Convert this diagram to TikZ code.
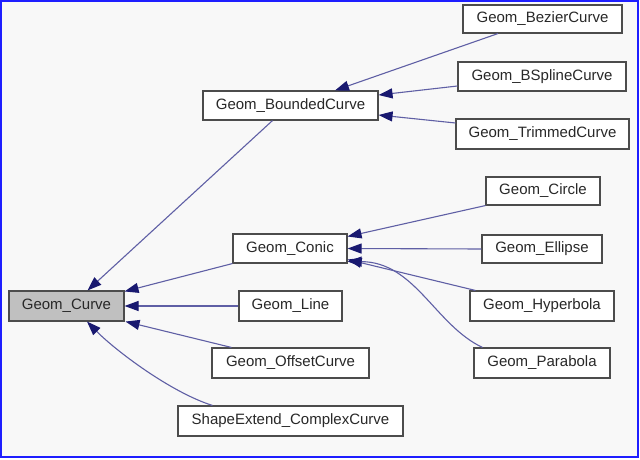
\documentclass[tikz,border=0pt]{standalone}
\usepackage{fontspec}
\setmainfont{Liberation Sans}
\usetikzlibrary{arrows.meta}
\definecolor{bgc}{RGB}{248,248,248}
\definecolor{framec}{RGB}{30,30,255}
\definecolor{edgec}{RGB}{95,95,165}
\definecolor{tipc}{RGB}{25,25,112}
\definecolor{hilite}{RGB}{192,192,192}
\definecolor{txtc}{RGB}{40,40,40}
\tikzset{
  cls/.style={draw=black!70, line width=1.1pt, fill=white, inner sep=0pt, text=txtc,
    font=\fontsize{15}{17}\selectfont},
  edge/.style={draw=edgec, line width=1.1pt,
    -{Triangle[length=14pt,width=10pt,color=tipc,fill=tipc]}},
}
\begin{document}
\begin{tikzpicture}[x=1pt,y=-1pt]
\useasboundingbox (0,0) rectangle (640,460);
\fill[bgc] (0,0) rectangle (638,457);
\draw[framec, line width=2pt] (1,1) rectangle (638,457);

\node[cls, fill=hilite, minimum width=115pt, minimum height=30pt] (curve) at (66.5,306) {Geom\_Curve};
\node[cls, minimum width=175pt, minimum height=29pt] (bounded) at (290.5,105.5) {Geom\_BoundedCurve};
\node[cls, minimum width=114pt, minimum height=29pt] (conic) at (290,248.5) {Geom\_Conic};
\node[cls, minimum width=103pt, minimum height=30pt] (line) at (290.5,306) {Geom\_Line};
\node[cls, minimum width=157pt, minimum height=30pt] (offset) at (290.5,363) {Geom\_OffsetCurve};
\node[cls, minimum width=225pt, minimum height=30pt] (complex) at (290.5,421) {ShapeExtend\_ComplexCurve};
\node[cls, minimum width=159pt, minimum height=28pt] (bezier) at (542.5,19) {Geom\_BezierCurve};
\node[cls, minimum width=168pt, minimum height=29pt] (bspline) at (542,76.5) {Geom\_BSplineCurve};
\node[cls, minimum width=173pt, minimum height=30pt] (trimmed) at (542.5,134) {Geom\_TrimmedCurve};
\node[cls, minimum width=114pt, minimum height=28pt] (circle) at (543,191) {Geom\_Circle};
\node[cls, minimum width=120pt, minimum height=28pt] (ellipse) at (542,249) {Geom\_Ellipse};
\node[cls, minimum width=144pt, minimum height=30pt] (hyperbola) at (542,306) {Geom\_Hyperbola};
\node[cls, minimum width=136pt, minimum height=30pt] (parabola) at (542,363) {Geom\_Parabola};

% edges to Geom_Curve
\draw[edge] ([xshift=-18pt]bounded.south) -- ([xshift=21pt]curve.north);
\draw[edge] (conic.south west) -- ([yshift=-1pt]curve.north east);
\draw[edge] (line.west) -- (curve.east);
\draw[edge] ([xshift=20pt]offset.north west) -- ([xshift=1pt]curve.south east);
\draw[edge] ([xshift=35pt]complex.north west) .. controls (170,392) and (115,350) .. ([xshift=20.5pt]curve.south);

% edges to Geom_BoundedCurve
\draw[edge] ([xshift=-44.5pt]bezier.south) -- ([xshift=44.5pt]bounded.north);
\draw[edge] ([yshift=-9.5pt]bspline.west) -- ([yshift=10.5pt]bounded.east);
\draw[edge] ([yshift=11pt]trimmed.west) -- ([yshift=-9.5pt]bounded.east);

% edges to Geom_Conic
\draw[edge] (circle.south west) -- ([yshift=12pt]conic.east);
\draw[edge] (ellipse.west) -- (conic.east);
\draw[edge] ([xshift=6pt]hyperbola.north west) -- ([yshift=-11pt]conic.east);
\draw[edge] ([xshift=9pt]parabola.north west) .. controls (435,325) and (415,262) .. ([yshift=-13pt]conic.east);
\end{tikzpicture}
\end{document}
